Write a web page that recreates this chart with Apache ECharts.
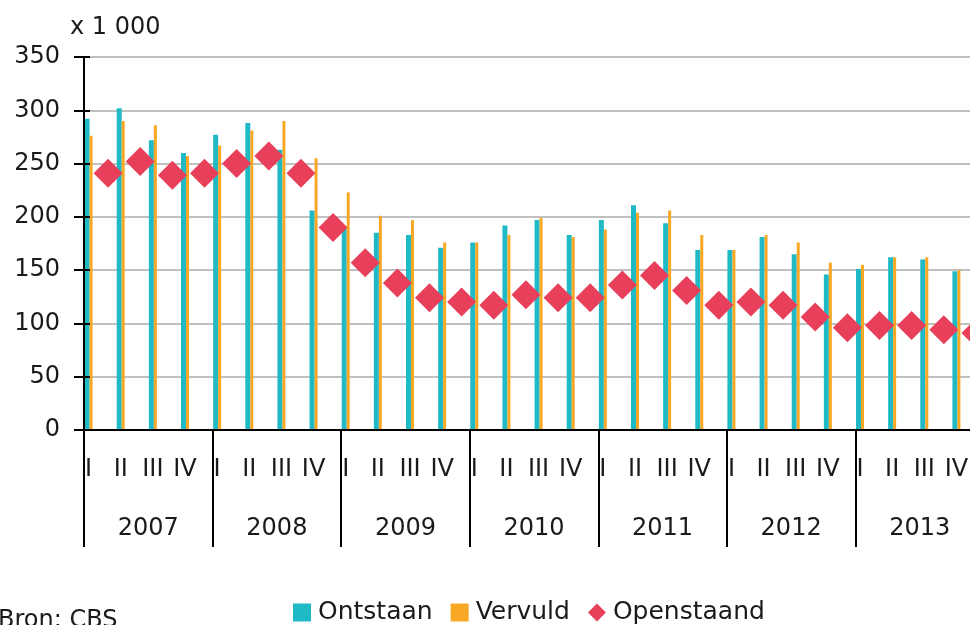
<!DOCTYPE html>
<html>
<head>
<meta charset="utf-8">
<script src="https://cdn.jsdelivr.net/npm/echarts@6/dist/echarts.min.js"></script>
<style>
html,body{margin:0;padding:0;background:#fff;}
#c{width:970px;height:625px;}
</style>
</head>
<body>
<div id="c"></div>
<script>
const years = ['2007', '2008', '2009', '2010', '2011', '2012', '2013'];
const quarters = ['I', 'II', 'III', 'IV'];
const ontstaan = [292, 302, 272, 260, 277, 288, 263, 206, 189, 185, 183, 171, 176, 192, 197, 183, 197, 211, 194, 169, 169, 181, 165, 146, 151, 162, 160, 149];
const vervuld = [276, 290, 286, 257, 267, 281, 290, 255, 223, 201, 197, 176, 176, 183, 199, 181, 188, 204, 206, 183, 169, 183, 176, 157, 155, 162, 162, 150];
const openstaand = [241, 252, 239, 241, 250, 257, 241, 190, 157, 138, 124, 120, 117, 127, 124, 124, 136, 145, 131, 117, 120, 117, 106, 96, 98, 98, 94, 91];
const yMin = 0, yMax = 350, yStep = 50;
const unitLabel = 'x 1 000';
const sourceLabel = 'Bron: CBS';

const categories = [];
years.forEach(function (y) { quarters.forEach(function (q) { categories.push(y + '|' + q); }); });

const FONT = 'DejaVu Sans';
const TXT = '#1a1a1a';
const TEAL = '#1fbac5';
const ORANGE = '#f9a826';
const RED = '#e8405a';

const chart = echarts.init(document.getElementById('c'), null, {renderer: 'canvas'});
chart.setOption({
  animation: false,
  backgroundColor: '#ffffff',
  grid: {left: 84, width: 900, top: 57, height: 373, containLabel: false, outerBoundsMode: 'none'},
  graphic: [
    {type: 'text', left: 70, top: 16, style: {text: unitLabel, font: '24px "' + FONT + '"', fill: TXT}},
    {type: 'text', left: -2, top: 609, style: {text: sourceLabel, font: '24px "' + FONT + '"', fill: TXT}}
  ],
  legend: {
    left: 293, top: 600, padding: 0,
    itemWidth: 18, itemHeight: 18, itemGap: 18,
    selectedMode: false,
    textStyle: {fontFamily: FONT, fontSize: 25, color: TXT, padding: [0, 0, 0, 2]},
    data: [
      {name: 'Ontstaan', icon: 'rect'},
      {name: 'Vervuld', icon: 'rect'},
      {name: 'Openstaand', icon: 'diamond'}
    ]
  },
  xAxis: [
    {
      type: 'category', data: categories, boundaryGap: true, position: 'bottom', z: 3,
      axisLine: {show: true, lineStyle: {color: '#000', width: 2}},
      axisTick: {show: false},
      splitLine: {show: false},
      axisLabel: {
        interval: 0, margin: 28, color: TXT, fontFamily: FONT, fontSize: 24, hideOverlap: false,
        formatter: function (v) { return '{q|' + v.split('|')[1] + '}'; },
        rich: {q: {fontFamily: FONT, fontSize: 24, color: TXT, padding: [0, 23, 0, 0]}}
      }
    },
    {
      type: 'category', data: years, boundaryGap: true, position: 'bottom', offset: 0,
      axisLine: {show: false},
      axisTick: {show: true, interval: 0, length: 117, lineStyle: {color: '#000', width: 2}},
      splitLine: {show: false},
      axisLabel: {interval: 0, margin: 87, color: TXT, fontFamily: FONT, fontSize: 24}
    }
  ],
  yAxis: [
    {
      type: 'value', min: yMin, max: yMax, interval: yStep, position: 'left',
      axisLine: {show: true, lineStyle: {color: '#000', width: 2}},
      axisTick: {show: true, inside: false, length: 10, lineStyle: {color: '#000', width: 2}},
      axisLabel: {margin: 24, color: TXT, fontFamily: FONT, fontSize: 24},
      splitLine: {show: true, lineStyle: {color: '#c0c0c0', width: 2}}
    },
    {
      type: 'value', min: yMin, max: yMax, interval: yStep, position: 'left', offset: 0, z: 3,
      axisLine: {show: true, lineStyle: {color: '#000', width: 2}},
      axisTick: {show: true, inside: true, length: 6, lineStyle: {color: '#000', width: 2}},
      axisLabel: {show: false},
      splitLine: {show: false}
    }
  ],
  series: [
    {name: 'Ontstaan', type: 'bar', data: ontstaan, barWidth: 5, barGap: 0, barCategoryGap: 0,
     itemStyle: {color: TEAL}, z: 2},
    {name: 'Vervuld', type: 'bar', data: vervuld, barWidth: 3, barGap: 0, barCategoryGap: 0,
     itemStyle: {color: ORANGE}, z: 2},
    {name: 'spacer', type: 'bar', data: [], barWidth: 23, barGap: 0, barCategoryGap: 0, silent: true,
     itemStyle: {color: 'rgba(0,0,0,0)'}},
    {name: 'Openstaand', type: 'scatter', data: openstaand, symbol: 'diamond',
     symbolSize: [29, 29], symbolOffset: [8, 0], itemStyle: {color: RED, opacity: 1}, z: 4}
  ]
});
</script>
</body>
</html>
